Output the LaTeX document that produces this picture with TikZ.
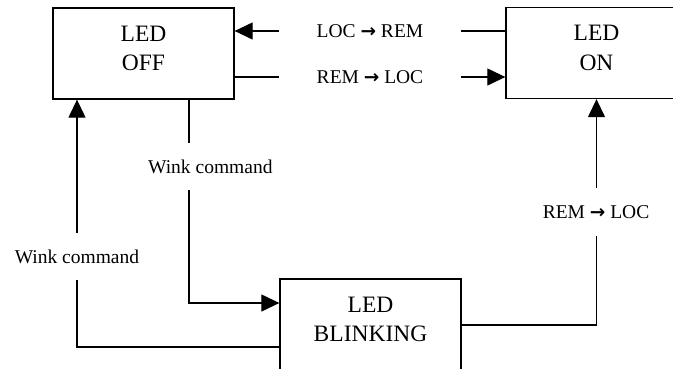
\documentclass[tikz,border=0pt]{standalone}
\usepackage{fontspec}
\setmainfont{Liberation Serif}
\newfontfamily\arrowfont{DejaVu Sans}
\newcommand{\chevarrow}{{\arrowfont\bfseries\fontsize{18.5}{20}\selectfont →}}
\usetikzlibrary{arrows.meta}
\begin{document}
\begin{tikzpicture}[x=1pt,y=-1pt,
  state/.style={draw, line width=1.3pt, minimum width=181pt, minimum height=91pt,
    align=center, inner sep=0pt, text depth=10pt, font=\fontsize{23.5}{29.5}\selectfont},
  conn/.style={line width=1.2pt},
  arr/.style={conn, -{Triangle[length=18pt,width=17pt]}},
  lbl/.style={fill=white, inner sep=0pt, font=\fontsize{19.5}{22}\selectfont}]
\useasboundingbox (0,0) rectangle (673,368);
\clip (0,0) rectangle (673,368);
\node[state] (OFF) at (143.5,53.5) {LED\\OFF};
\node[state] (ON) at (596.5,53) {LED\\ON};
\node[state] (BLINK) at (370.5,324.5) {LED\\BLINKING};
\coordinate (yA) at (0,31);
\coordinate (yB) at (0,77);
\coordinate (xC) at (189,0);
\coordinate (yD) at (0,303);
\coordinate (yE) at (0,347);
\coordinate (xF) at (77,0);
\coordinate (yG) at (0,325);
\draw[arr] (ON.west |- yA) -- (OFF.east |- yA)
  node[lbl, midway, minimum width=182pt, minimum height=20pt] (t1) {LOC \chevarrow{} REM};
\draw[arr] (OFF.east |- yB) -- (ON.west |- yB)
  node[lbl, midway, minimum width=182pt, minimum height=20pt] (t2) {REM \chevarrow{} LOC};
\draw[arr] (OFF.south -| xC) |- (BLINK.west |- yD);
\node[lbl, anchor=west, minimum height=47pt] (w1) at (148,166.5) {Wink command};
\draw[arr] (BLINK.west |- yE) -| (OFF.south -| xF);
\node[lbl, minimum height=47pt] (w2) at (77,256.5) {Wink command};
\draw[arr] (BLINK.east |- yG) -| (ON.south);
\node[lbl, minimum height=48pt] (r1) at (596,212) {REM \chevarrow{} LOC};
\end{tikzpicture}
\end{document}
